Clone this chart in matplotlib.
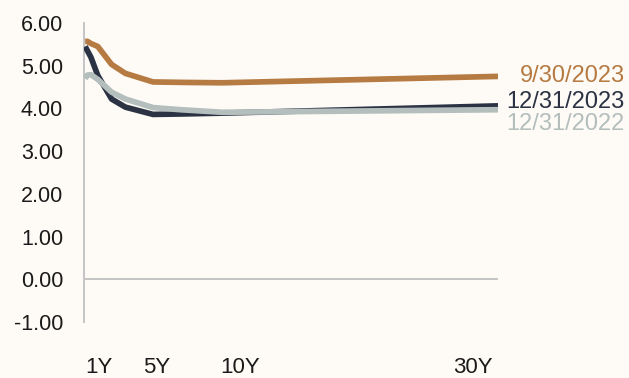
import matplotlib
matplotlib.use('Agg')
import matplotlib.pyplot as plt

# === data (yields in %, maturity in years) ===
maturity = [1/12, 0.25, 0.5, 1, 2, 3, 5, 7, 10, 30]
yld_sep23 = [5.57, 5.57, 5.52, 5.45, 5.03, 4.82, 4.62, 4.61, 4.60, 4.75]
yld_dec23 = [5.45, 5.35, 5.20, 4.77, 4.22, 4.03, 3.86, 3.87, 3.89, 4.06]
yld_dec22 = [4.70, 4.78, 4.79, 4.68, 4.38, 4.22, 4.02, 3.97, 3.91, 3.97]

series_labels = ['9/30/2023', '12/31/2023', '12/31/2022']
series_colors = ['#B67B42', '#2A3244', '#B3BEBD']

tick_labels = ['1Y', '5Y', '10Y', '30Y']
tick_spots = [1.1, 5.3, 11.3, 28.2]   # where the labels sit under the axis
y_ticks = [-1, 0, 1, 2, 3, 4, 5, 6]

bg = '#FEFBF6'
plt.rcParams['font.family'] = ['Liberation Sans', 'DejaVu Sans']

fig = plt.figure(figsize=(6.29, 3.78), dpi=100, facecolor=bg)
ax = fig.add_axes([84/629, 1 - 322/378, (498 - 84)/629, (322 - 23)/378])
ax.set_facecolor(bg)

# zero line doubles as the x axis
ax.axhline(0, color='#C4C4C4', lw=1.4, zorder=1)

for yv, col in zip([yld_sep23, yld_dec23, yld_dec22], series_colors):
    ax.plot(maturity, yv, color=col, lw=4.1, solid_joinstyle='round',
            solid_capstyle='butt', zorder=3)

ax.set_xlim(0, 30)
ax.set_ylim(-1, 6)
ax.set_yticks(y_ticks)
ax.set_yticklabels([f'{v:.2f}' for v in y_ticks])
ax.set_xticks(tick_spots)
ax.set_xticklabels(tick_labels)

for s in ['top', 'right', 'bottom']:
    ax.spines[s].set_visible(False)
ax.spines['left'].set_color('#C4C4C4')
ax.spines['left'].set_linewidth(1.4)

ax.tick_params(axis='y', length=0, pad=15, labelsize=15.5, labelcolor='#1A1A1A')
ax.tick_params(axis='x', length=0, pad=25, labelsize=16, labelcolor='#1A1A1A')

# series names at the right end
label_base = [81.5, 108, 130]
for txt, col, yb in zip(series_labels, series_colors, label_base):
    fig.text(625/629, 1 - yb/378, txt, color=col, fontsize=17,
             ha='right', va='baseline')

plt.savefig('out.png', dpi=100, facecolor=bg)
